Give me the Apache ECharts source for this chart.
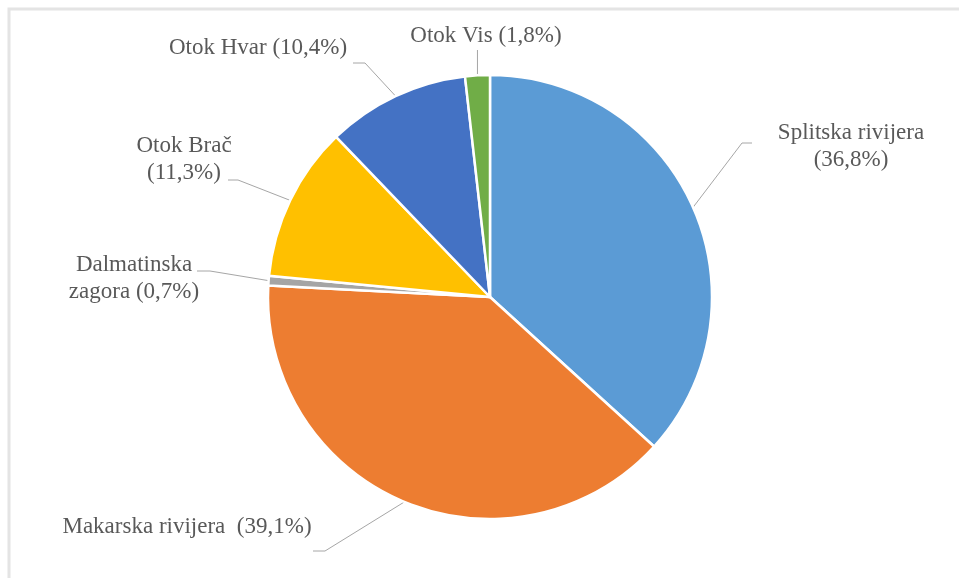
<!DOCTYPE html>
<html>
<head>
<meta charset="utf-8">
<script src="https://cdn.jsdelivr.net/npm/echarts@6/dist/echarts.min.js"></script>
<style>
  html, body { margin: 0; padding: 0; background: #fff; }
  #chart { width: 959px; height: 578px; }
</style>
</head>
<body>
<div id="chart"></div>
<script>
// data
var regions = ['Splitska rivijera', 'Makarska rivijera', 'Dalmatinska zagora', 'Otok Brač', 'Otok Hvar', 'Otok Vis'];
var shares = [36.8, 39.1, 0.7, 11.3, 10.4, 1.8];
var labelHeads = ['Splitska rivijera\n', 'Makarska rivijera  ', 'Dalmatinska\nzagora ', 'Otok Brač\n', 'Otok Hvar ', 'Otok Vis '];
var colors = ['#5B9BD5', '#ED7D31', '#A5A5A5', '#FFC000', '#4472C4', '#70AD47'];

// label placement (text centre, leader elbow, leader end)
var labelPos = [[851, 146], [187, 527], [134, 278], [184, 159], [258, 48], [486, 36]];
var elbows = [[742, 143], [325, 551], [210, 271], [238, 180], [365, 63], [null, 50]];
var ends = [[752, 143], [313, 551], [197, 271], [228, 180], [353, 63], [null, 50]];

var chart = echarts.init(document.getElementById('chart'));

chart.setOption({
  backgroundColor: '#fff',
  animation: false,
  color: colors,
  graphic: [{
    type: 'rect',
    shape: { x: 9, y: 9, width: 970, height: 600 },
    style: { fill: 'none', stroke: '#E4E4E4', lineWidth: 3 }
  }],
  series: [{
    type: 'pie',
    center: [490, 297],
    radius: 222,
    startAngle: 90,
    clockwise: true,
    itemStyle: { borderColor: '#fff', borderWidth: 2.5 },
    label: {
      show: true,
      position: 'outside',
      fontFamily: 'Liberation Serif',
      fontSize: 23,
      lineHeight: 27,
      color: '#595959',
      align: 'center',
      formatter: function (p) {
        return labelHeads[p.dataIndex] + '(' + String(p.value).replace('.', ',') + '%)';
      }
    },
    labelLine: {
      show: true,
      length: 20,
      length2: 10,
      lineStyle: { color: '#A6A6A6', width: 1 }
    },
    labelLayout: function (params) {
      var i = params.dataIndex;
      var start = params.labelLinePoints ? params.labelLinePoints[0] : [0, 0];
      var e = elbows[i], f = ends[i];
      return {
        x: labelPos[i][0],
        y: labelPos[i][1],
        align: 'center',
        verticalAlign: 'middle',
        labelLinePoints: [
          start,
          [e[0] == null ? start[0] : e[0], e[1]],
          [f[0] == null ? start[0] : f[0], f[1]]
        ]
      };
    },
    data: regions.map(function (name, i) {
      return { name: name, value: shares[i] };
    })
  }]
});
</script>
</body>
</html>
